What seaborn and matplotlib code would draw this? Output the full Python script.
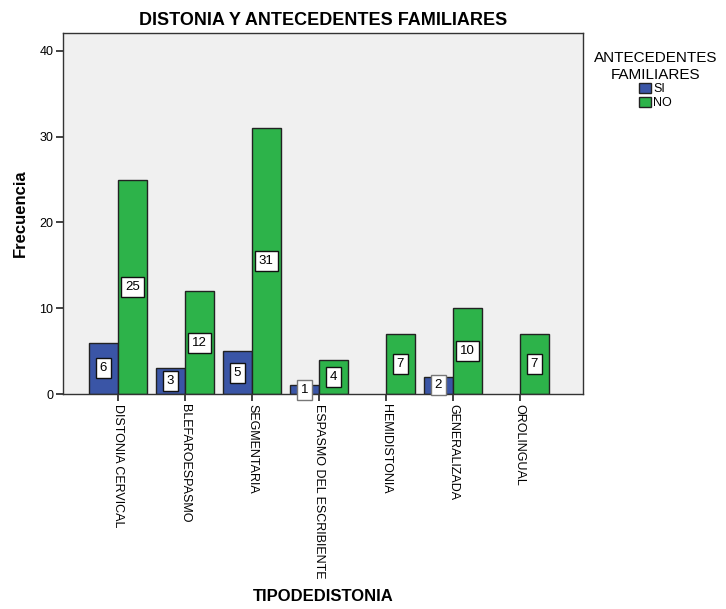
import matplotlib
matplotlib.use("Agg")
import matplotlib.pyplot as plt
import seaborn as sns
import pandas as pd

categories = ["DISTONIA CERVICAL", "BLEFAROESPASMO", "SEGMENTARIA",
              "ESPASMO DEL ESCRIBIENTE", "HEMIDISTONIA", "GENERALIZADA",
              "OROLINGUAL"]
si_values = [6, 3, 5, 1, 0, 2, 0]
no_values = [25, 12, 31, 4, 7, 10, 7]
hue_labels = ["SI", "NO"]
y_ticks = [0, 10, 20, 30, 40]

df = pd.DataFrame({
    "TIPODEDISTONIA": categories * 2,
    "ANTECEDENTES": ["SI"] * len(categories) + ["NO"] * len(categories),
    "Frecuencia": si_values + no_values,
})

sns.set_theme(style="white")
plt.rcParams["font.family"] = ["Liberation Sans", "DejaVu Sans"]
plt.rcParams["text.color"] = "black"
plt.rcParams["axes.labelcolor"] = "black"
plt.rcParams["xtick.color"] = "black"
plt.rcParams["ytick.color"] = "black"

palette = {"SI": "#3A55A6", "NO": "#2DB34A"}

fig = plt.figure(figsize=(7.26, 6.09), dpi=100)
ax = fig.add_axes([0.0868, 0.353, 0.716, 0.593])
ax.set_facecolor("#F0F0F0")

sns.barplot(data=df, x="TIPODEDISTONIA", y="Frecuencia", hue="ANTECEDENTES",
            hue_order=hue_labels, order=categories, palette=palette,
            width=0.86, edgecolor="#222222", linewidth=1.0, saturation=1,
            ax=ax, legend=True)

# value boxes at mid-height of each non-empty bar
for container, vals in zip(ax.containers, [si_values, no_values]):
    for patch, v in zip(container.patches, vals):
        if v <= 0:
            patch.set_linewidth(0)
            continue
        x = patch.get_x() + patch.get_width() / 2
        small = v <= 2
        ax.text(x, v / 2, str(v), ha="center", va="center", fontsize=9.5,
                color="black", zorder=5,
                bbox=dict(boxstyle="square,pad=0.3", facecolor="white",
                          edgecolor="#777777" if small else "#111111",
                          linewidth=1.0))

ax.set_xlim(-0.82, 6.94)
ax.set_ylim(0, 42.1)
ax.set_yticks(y_ticks)
ax.set_yticklabels([str(t) for t in y_ticks], fontsize=9)
ax.set_xticks(range(len(categories)))
ax.set_xticklabels(categories, rotation=270, ha="center", va="top", fontsize=9)
ax.tick_params(axis="both", direction="out", length=5, width=1.2,
               color="#222222", bottom=True, left=True, pad=2)

for side in ["left", "bottom", "top", "right"]:
    ax.spines[side].set_visible(True)
    ax.spines[side].set_color("#333333")
    ax.spines[side].set_linewidth(1.0)

ax.set_xlabel("TIPODEDISTONIA", fontsize=12, fontweight="bold")
ax.xaxis.set_label_coords(0.5, -0.54)
ax.set_ylabel("Frecuencia", fontsize=12, fontweight="bold", labelpad=8)
ax.set_title("DISTONIA Y ANTECEDENTES FAMILIARES", fontsize=13,
             fontweight="bold", pad=6)

leg = ax.legend(title="ANTECEDENTES\nFAMILIARES", loc="upper center",
                bbox_to_anchor=(1.14, 0.98), frameon=False, fontsize=9,
                title_fontsize=11, handlelength=0.9, handleheight=0.9,
                handletextpad=0.2, labelspacing=0.1)
leg._legend_box.align = "center"
leg.get_title().set_multialignment("center")
for h in leg.legend_handles:
    h.set_edgecolor("#222222")
    h.set_linewidth(1.0)

fig.savefig("out.png", dpi=100)
